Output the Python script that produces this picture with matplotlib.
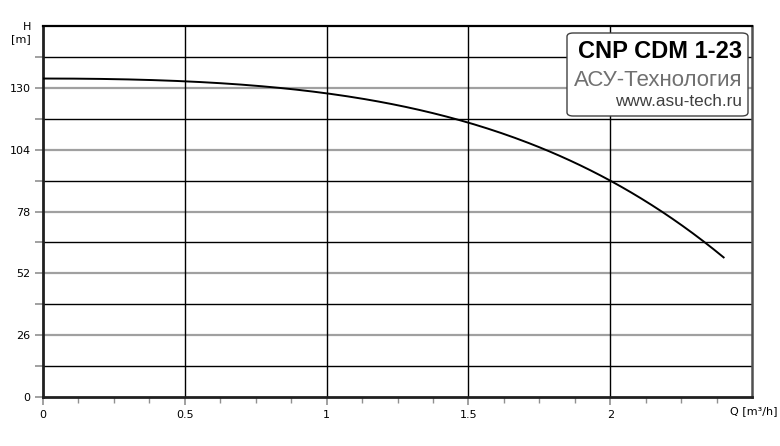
import matplotlib
matplotlib.use("Agg")
import matplotlib.pyplot as plt
from matplotlib.patches import FancyBboxPatch
import numpy as np

# pump curve
flow = [0, 0.25, 0.5, 0.75, 1.0, 1.25, 1.5, 1.75, 2.0, 2.16, 2.25, 2.4]
head = [134.0, 133.5, 132.7, 130.9, 128.0, 122.5, 115.5, 104.6, 91.0, 80.0, 72.5, 58.5]

y_labels = [0, 26, 52, 78, 104, 130]
x_labels = [0, 0.5, 1, 1.5, 2]

fig = plt.figure(figsize=(7.8, 4.46), dpi=100)
ax = fig.add_axes([43 / 780, 49 / 446, 709 / 780, 371 / 446])
ax.set_xlim(0, 2.5)
ax.set_ylim(0, 156)

# grid: labelled rows grey, the rest black
for y in np.arange(13, 156, 13):
    if y % 26 == 0:
        ax.axhline(y, color="#a0a0a0", lw=1.6, zorder=1)
    else:
        ax.axhline(y, color="black", lw=1.0, zorder=1)
for x in x_labels[1:]:
    ax.axvline(x, color="black", lw=1.0, zorder=1)

# smooth line through the read points
qq = np.linspace(flow[0], flow[-1], 200)
coef = np.polyfit(flow, head, 4)
ax.plot(qq, np.polyval(coef, qq), color="black", lw=1.4, zorder=3)

ax.set_yticks(np.arange(0, 156, 13))
ax.set_yticklabels([str(int(v)) if v in y_labels else "" for v in np.arange(0, 156, 13)])
ax.set_xticks(x_labels)
ax.set_xticklabels(["0", "0.5", "1", "1.5", "2"])
ax.set_xticks(np.arange(0, 2.5, 0.125), minor=True)
ax.tick_params(axis="both", which="major", length=6, width=1.2, color="#909090",
               labelsize=8, pad=3)
ax.tick_params(axis="x", which="minor", length=4, width=1.0, color="#909090")

for s in ("left", "bottom"):
    ax.spines[s].set_linewidth(2.0)
    ax.spines[s].set_color("#202020")
ax.spines["top"].set_linewidth(1.6)
ax.spines["right"].set_linewidth(1.8)
ax.spines["right"].set_color("#505050")

fig.text(31 / 780, 1 - 27 / 446, "H", ha="right", va="center", fontsize=8)
fig.text(31 / 780, 1 - 39 / 446, "[m]", ha="right", va="center", fontsize=8)
fig.text(1 - 3 / 780, 1 - 411 / 446, "Q [m³/h]", ha="right", va="center", fontsize=8)

# title box
box = FancyBboxPatch((567 / 780, 1 - 116 / 446), 181 / 780, 83 / 446,
                     boxstyle="round,pad=0,rounding_size=0.008",
                     transform=fig.transFigure, facecolor="white",
                     edgecolor="#404040", lw=1.0, zorder=5)
fig.add_artist(box)
fig.text(742 / 780, 1 - 52 / 446, "CNP CDM 1-23", ha="right", va="center",
         fontsize=17, fontweight="bold", family="Liberation Sans", zorder=6)
fig.text(742 / 780, 1 - 81 / 446, "АСУ-Технология", ha="right", va="center",
         fontsize=16, color="#707070", family="Liberation Sans", zorder=6)
fig.text(742 / 780, 1 - 102 / 446, "www.asu-tech.ru", ha="right", va="center",
         fontsize=12.3, color="#404040", family="Liberation Sans", zorder=6)

fig.savefig("out.png", dpi=100)
